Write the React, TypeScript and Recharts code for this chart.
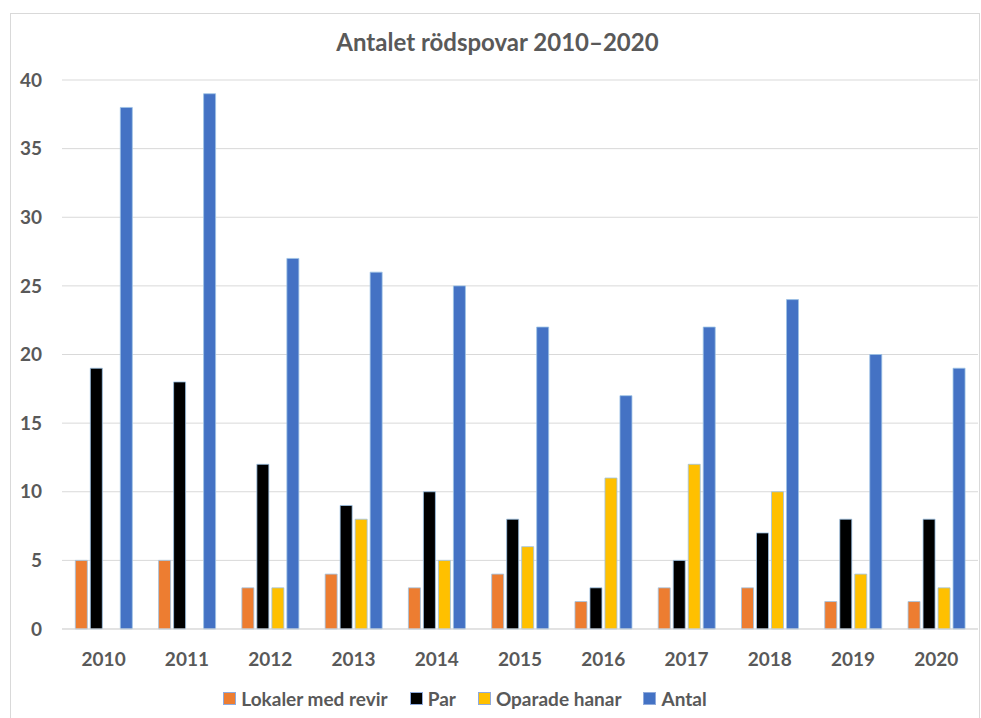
import React from 'react';
import { BarChart, Bar, XAxis, YAxis, CartesianGrid, Legend } from 'recharts';

const years = ['2010', '2011', '2012', '2013', '2014', '2015', '2016', '2017', '2018', '2019', '2020'];
const lokaler = [5, 5, 3, 4, 3, 4, 2, 3, 3, 2, 2];
const par = [19, 18, 12, 9, 10, 8, 3, 5, 7, 8, 8];
const oparade = [0, 0, 3, 8, 5, 6, 11, 12, 10, 4, 3];
const antal = [38, 39, 27, 26, 25, 22, 17, 22, 24, 20, 19];
const yTicks = [0, 5, 10, 15, 20, 25, 30, 35, 40];

const SERIES = [
  { key: 'lokaler', name: 'Lokaler med revir', color: '#ED7D31' },
  { key: 'par', name: 'Par', color: '#000000' },
  { key: 'oparade', name: 'Oparade hanar', color: '#FFC000' },
  { key: 'antal', name: 'Antal', color: '#4472C4' },
];

const data = years.map((year, i) => ({
  year,
  lokaler: lokaler[i],
  par: par[i],
  oparade: oparade[i],
  antal: antal[i],
}));

const FONT = 'Lato, "Open Sans", sans-serif';
const TEXT = '#595959';

const renderLegend = () => (
  <div style={{ display: 'flex', justifyContent: 'center', gap: 22, fontFamily: FONT, fontWeight: 700, fontSize: 19, color: TEXT, marginLeft: -48 }}>
    {SERIES.map(s => (
      <div key={s.key} style={{ display: 'flex', alignItems: 'center' }}>
        <span style={{ width: 11, height: 11, background: s.color, border: '1px solid #8faadc', marginRight: 5, display: 'inline-block' }} />
        {s.name}
      </div>
    ))}
  </div>
);

export default function App() {
  return (
    <div style={{ position: 'absolute', top: 0, left: 0, width: 981, height: 718, background: '#fff' }}>
      <div style={{ position: 'absolute', left: 10, top: 13, width: 970, height: 710, border: '1px solid #d9d9d9', boxSizing: 'border-box' }} />
      <div style={{ position: 'absolute', top: 27, left: 0, width: 995, textAlign: 'center', fontFamily: FONT, fontWeight: 700, fontSize: 24, color: TEXT }}>
        Antalet rödspovar 2010–2020
      </div>
      <div style={{ position: 'absolute', top: 0, left: 0 }}>
        <BarChart
          width={981}
          height={718}
          data={data}
          margin={{ top: 80, right: 3, left: 0, bottom: 6 }}
          barCategoryGap="16%"
          barGap={3}
        >
          <CartesianGrid vertical={false} stroke="#d9d9d9" />
          <XAxis
            dataKey="year"
            axisLine={{ stroke: '#d9d9d9' }}
            tickLine={false}
            tickMargin={18}
            height={60}
            tick={{ fill: TEXT, fontFamily: FONT, fontWeight: 700, fontSize: 19 }}
          />
          <YAxis
            width={62}
            domain={[0, 40]}
            ticks={yTicks}
            axisLine={false}
            tickLine={false}
            tickMargin={14}
            tick={{ fill: TEXT, fontFamily: FONT, fontWeight: 700, fontSize: 19 }}
          />
          <Legend verticalAlign="bottom" content={renderLegend} wrapperStyle={{ bottom: 8 }} />
          {SERIES.map(s => (
            <Bar
              key={s.key}
              dataKey={s.key}
              name={s.name}
              fill={s.color}
              stroke="#9dc3e6"
              strokeWidth={0.8}
              isAnimationActive={false}
            />
          ))}
        </BarChart>
      </div>
    </div>
  );
}
